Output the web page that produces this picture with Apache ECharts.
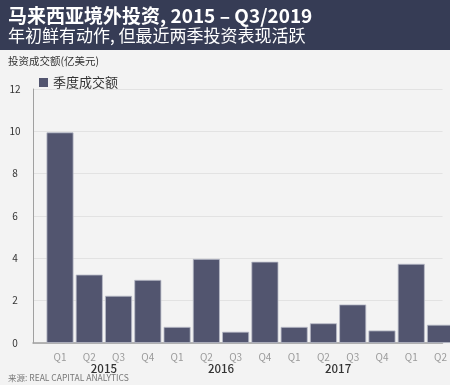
<!DOCTYPE html>
<html>
<head>
<meta charset="utf-8">
<script src="https://cdn.jsdelivr.net/npm/echarts@6/dist/echarts.min.js"></script>
<style>
html,body{margin:0;padding:0;background:#f3f3f3;}
#chart{width:450px;height:385px;}
</style>
</head>
<body>
<div id="chart"></div>
<script>
const quarters = ['Q1','Q2','Q3','Q4','Q1','Q2','Q3','Q4','Q1','Q2','Q3','Q4','Q1','Q2'];
const years = ['2015','2016','2017'];
const yTicks = [0,2,4,6,8,10,12];
const seriesName = '季度成交额';
const values = [9.95, 3.23, 2.23, 2.98, 0.76, 3.97, 0.53, 3.84, 0.76, 0.93, 1.82, 0.59, 3.74, 0.86];

const FONT = '"Noto Sans CJK SC", "Noto Sans", sans-serif';
const X_MIN = -0.923, X_MAX = 13.07;

const chart = echarts.init(document.getElementById('chart'), null, {renderer:'canvas'});
chart.setOption({
  backgroundColor:'#f3f3f3',
  animation:false,
  textStyle:{fontFamily:FONT},
  graphic:[
    {type:'rect', left:0, top:0, shape:{width:450, height:50}, style:{fill:'#363c55'}, z:-1},
    {type:'text', left:8, top:6, style:{text:'马来西亚境外投资, 2015 – Q3/2019', fill:'#ffffff', font:'bold 19px ' + FONT}},
    {type:'text', left:8, top:27, style:{text:'年初鲜有动作, 但最近两季投资表现活跃', fill:'#ffffff', font:'17px ' + FONT}},
    {type:'text', left:8, top:56, style:{text:'投资成交额(亿美元)', fill:'#333333', font:'10.5px ' + FONT}},
    {type:'text', left:8, top:374, style:{text:'来源: REAL CAPITAL ANALYTICS', fill:'#777777', font:'8.5px ' + FONT}}
  ],
  legend:{
    left:34, top:71, icon:'rect', itemWidth:9, itemHeight:9, itemGap:10,
    itemStyle:{borderWidth:0},
    textStyle:{fontSize:13, color:'#333', fontFamily:FONT},
    data:[seriesName]
  },
  grid:{left:33, right:0, top:89, bottom:42},
  xAxis:[
    {
      type:'value', min:X_MIN, max:X_MAX, position:'bottom',
      axisLine:{show:true, onZero:false, lineStyle:{color:'#a0a0a0', width:1.5}},
      axisTick:{show:false},
      splitLine:{show:false},
      axisLabel:{
        customValues: quarters.map((q,i)=>i),
        formatter: v => quarters[Math.round(v)] || '',
        color:'#9a9a9a', fontSize:10, margin:9, fontFamily:FONT
      }
    },
    {
      type:'value', min:X_MIN, max:X_MAX, position:'bottom',
      axisLine:{show:false, onZero:false}, axisTick:{show:false}, splitLine:{show:false},
      axisLabel:{
        customValues: years.map((y,k)=>4*k+1.5),
        formatter: v => years[Math.round((v-1.5)/4)] || '',
        color:'#333', fontSize:11.5, fontWeight:500, margin:20, fontFamily:FONT
      }
    }
  ],
  yAxis:{
    type:'value', min:yTicks[0], max:yTicks[yTicks.length-1], interval:2,
    axisLine:{show:true, onZero:false, lineStyle:{color:'#a0a0a0', width:1}},
    axisTick:{show:false},
    splitLine:{show:true, lineStyle:{color:'#e2e2e2', width:1}},
    axisLabel:{color:'#333', fontSize:10, align:'center', margin:18, fontFamily:FONT}
  },
  series:[{
    name:seriesName, type:'bar', xAxisIndex:0,
    barWidth:27,
    data: values.map((v,i)=>[i,v]),
    itemStyle:{color:'#52556f', borderColor:'#b9bbc8', borderWidth:0.8}
  }]
});
</script>
</body>
</html>
